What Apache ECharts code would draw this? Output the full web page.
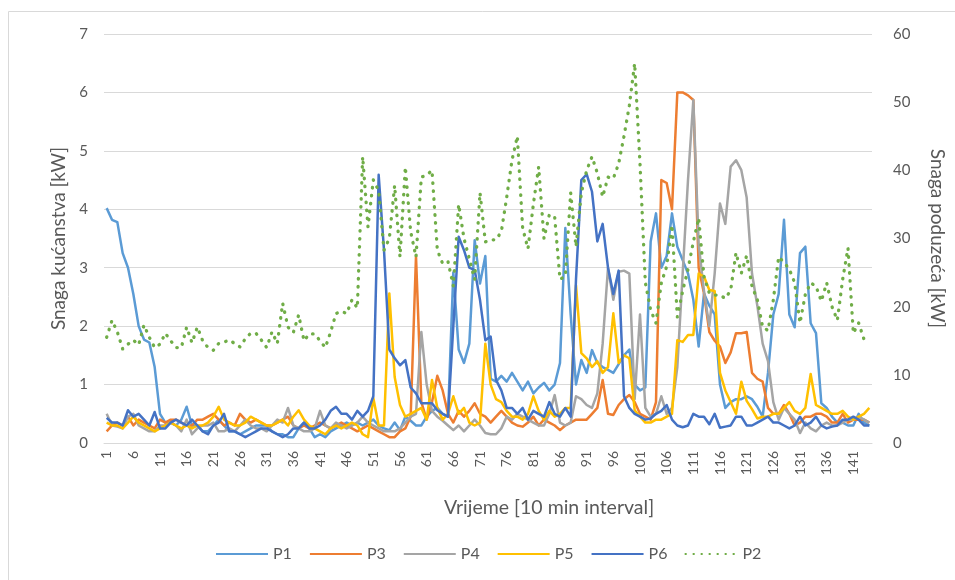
<!DOCTYPE html>
<html>
<head>
<meta charset="utf-8">
<script src="https://cdn.jsdelivr.net/npm/echarts@6/dist/echarts.min.js"></script>
<style>
html,body{margin:0;padding:0;background:#fff;}
#chart{width:955px;height:580px;}
</style>
</head>
<body>
<div id="chart"></div>
<script>
var categories = [1,2,3,4,5,6,7,8,9,10,11,12,13,14,15,16,17,18,19,20,21,22,23,24,25,26,27,28,29,30,31,32,33,34,35,36,37,38,39,40,41,42,43,44,45,46,47,48,49,50,51,52,53,54,55,56,57,58,59,60,61,62,63,64,65,66,67,68,69,70,71,72,73,74,75,76,77,78,79,80,81,82,83,84,85,86,87,88,89,90,91,92,93,94,95,96,97,98,99,100,101,102,103,104,105,106,107,108,109,110,111,112,113,114,115,116,117,118,119,120,121,122,123,124,125,126,127,128,129,130,131,132,133,134,135,136,137,138,139,140,141,142,143,144];

var P1 = [4.02,3.82,3.78,3.25,3.0,2.55,2.0,1.77,1.72,1.3,0.5,0.35,0.35,0.3,0.4,0.62,0.3,0.3,0.2,0.2,0.3,0.4,0.3,0.2,0.2,0.15,0.2,0.25,0.3,0.3,0.3,0.2,0.15,0.15,0.1,0.1,0.25,0.35,0.25,0.1,0.15,0.1,0.2,0.25,0.3,0.35,0.3,0.35,0.3,0.35,0.4,0.3,0.25,0.22,0.35,0.22,0.45,0.38,0.3,0.3,0.45,0.55,0.6,0.5,0.45,2.92,1.6,1.37,1.7,3.47,2.73,3.2,1.1,1.05,1.15,1.05,1.2,1.05,0.9,1.05,0.85,0.95,1.03,0.9,1.0,1.37,3.68,2.2,1.0,1.42,1.2,1.59,1.37,1.3,1.25,1.2,1.35,1.5,1.6,1.0,0.9,0.95,3.45,3.93,3.0,3.2,3.93,3.36,3.13,2.9,2.45,1.65,2.56,2.35,2.2,1.0,0.6,0.7,0.75,0.75,0.8,0.75,0.62,0.45,1.2,2.2,2.55,3.82,2.2,1.98,3.25,3.36,2.05,1.88,0.68,0.6,0.45,0.35,0.35,0.3,0.3,0.5,0.35,0.3];

var P3 = [0.2,0.3,0.35,0.3,0.45,0.3,0.4,0.35,0.3,0.25,0.4,0.35,0.4,0.4,0.35,0.3,0.3,0.4,0.4,0.45,0.5,0.4,0.3,0.35,0.3,0.5,0.4,0.35,0.4,0.35,0.3,0.3,0.35,0.4,0.45,0.3,0.25,0.3,0.25,0.3,0.35,0.3,0.25,0.3,0.35,0.3,0.25,0.2,0.25,0.3,0.25,0.2,0.15,0.1,0.1,0.2,0.25,0.45,3.2,0.7,0.4,0.7,1.15,0.9,0.5,0.35,0.55,0.45,0.55,0.68,0.5,0.45,0.35,0.45,0.55,0.45,0.35,0.3,0.28,0.35,0.45,0.3,0.4,0.35,0.3,0.22,0.3,0.35,0.4,0.4,0.4,0.5,0.6,1.08,0.5,0.48,0.65,0.75,0.82,0.7,0.5,0.45,0.4,0.7,4.5,4.45,4.0,6.0,6.0,5.95,5.87,3.0,2.56,1.9,1.75,1.65,1.37,1.55,1.88,1.88,1.9,1.2,1.1,1.05,0.6,0.5,0.5,0.65,0.5,0.3,0.35,0.45,0.45,0.5,0.5,0.45,0.35,0.35,0.5,0.35,0.4,0.4,0.4,0.35];

var P4 = [0.5,0.3,0.28,0.25,0.45,0.5,0.3,0.25,0.2,0.2,0.3,0.3,0.35,0.3,0.2,0.4,0.15,0.25,0.3,0.3,0.35,0.2,0.2,0.25,0.2,0.3,0.4,0.3,0.25,0.25,0.2,0.3,0.4,0.35,0.6,0.3,0.25,0.2,0.2,0.25,0.55,0.3,0.25,0.35,0.3,0.25,0.3,0.35,0.45,0.35,0.3,0.25,0.2,0.2,0.2,0.25,0.35,0.45,0.5,1.9,1.0,0.55,0.45,0.38,0.3,0.22,0.3,0.2,0.3,0.4,0.3,0.17,0.15,0.15,0.25,0.45,0.4,0.5,0.45,0.4,0.35,0.3,0.3,0.5,0.82,0.35,0.3,0.35,0.8,0.75,0.65,0.6,0.85,1.7,3.0,2.45,2.93,2.95,2.9,0.75,2.2,0.6,0.45,0.5,0.8,0.5,0.6,1.3,2.9,4.5,5.87,3.4,2.6,2.0,2.9,4.1,3.75,4.73,4.84,4.67,4.2,2.9,2.35,1.7,1.4,0.7,0.4,0.6,0.5,0.4,0.17,0.35,0.25,0.2,0.3,0.35,0.3,0.3,0.35,0.4,0.4,0.45,0.4,0.35];

var P5 = [0.35,0.3,0.3,0.25,0.35,0.45,0.35,0.3,0.25,0.2,0.25,0.3,0.35,0.3,0.25,0.3,0.25,0.3,0.3,0.35,0.45,0.62,0.4,0.35,0.3,0.3,0.35,0.45,0.4,0.35,0.3,0.3,0.35,0.4,0.3,0.45,0.56,0.4,0.3,0.25,0.2,0.15,0.25,0.3,0.25,0.3,0.35,0.3,0.15,0.1,0.77,0.3,0.3,2.56,1.13,0.65,0.45,0.5,0.55,0.6,0.4,1.08,0.6,0.4,0.5,0.8,0.5,0.6,0.35,0.3,0.35,1.7,1.0,0.75,0.7,0.55,0.45,0.45,0.4,0.5,0.8,0.55,0.4,0.55,0.45,0.5,0.6,0.6,2.7,1.54,1.45,1.3,1.4,1.2,1.3,2.22,1.37,1.5,1.45,0.56,0.45,0.35,0.35,0.4,0.4,0.45,0.5,1.76,1.73,1.85,1.85,2.9,2.85,2.62,2.6,1.2,0.9,0.7,0.5,1.05,0.72,0.58,0.42,0.45,0.45,0.5,0.5,0.6,0.7,0.55,0.5,0.6,1.18,0.65,0.6,0.55,0.5,0.5,0.55,0.45,0.4,0.45,0.5,0.6];

var P6 = [0.43,0.35,0.35,0.3,0.56,0.45,0.5,0.4,0.3,0.53,0.25,0.25,0.35,0.4,0.35,0.3,0.4,0.3,0.2,0.15,0.3,0.35,0.5,0.2,0.2,0.15,0.1,0.15,0.2,0.25,0.25,0.2,0.15,0.1,0.15,0.25,0.25,0.35,0.25,0.25,0.3,0.4,0.55,0.62,0.5,0.5,0.4,0.55,0.45,0.55,0.8,4.59,3.3,1.6,1.45,1.33,1.42,0.95,0.85,0.68,0.68,0.68,0.56,0.5,0.45,2.0,3.53,3.3,3.0,2.96,2.45,1.76,1.82,1.08,0.9,0.6,0.6,0.5,0.6,0.4,0.55,0.5,0.45,0.7,0.5,0.45,0.6,0.45,2.8,4.5,4.6,4.3,3.45,3.75,3.0,2.55,2.95,0.8,0.6,0.5,0.45,0.4,0.42,0.5,0.55,0.65,0.4,0.3,0.27,0.3,0.5,0.45,0.45,0.32,0.5,0.26,0.28,0.3,0.45,0.45,0.3,0.3,0.35,0.4,0.45,0.35,0.35,0.3,0.25,0.3,0.45,0.3,0.35,0.45,0.3,0.25,0.28,0.3,0.4,0.4,0.45,0.4,0.3,0.3];

var P2 = [15.5,18,16.3,13.8,14.5,15.1,14.4,17.3,15.5,14,14.5,16.1,15,14,14,17,14.7,17,15,14,13.6,14.6,14.8,15.1,14.6,14.1,15.3,16.1,16.1,15.1,14,16.3,14.6,20.5,17,16.2,18.8,15,16,16,15,14,16.3,19,19.3,19,21,19.8,42,31.7,38.6,37,28.3,30,37.8,27.3,40.5,31,27.3,39,39.3,40,28.3,26.3,26.6,23,35,30,27,24,36.7,29.5,29.8,29.8,31,36,41.5,45,31.5,28.5,35,40.5,30,33.5,33.2,24,24.5,36.7,28.8,36.7,40,42,39.6,36.1,39,38.8,41,45,49.5,55.7,41,23.5,19.5,17.6,23.5,25.9,32,18.5,22.3,25.5,29.5,33,24.4,22,21.7,21.7,21.2,22.4,27.9,24.9,27.5,23,21,17,16.5,21,27.3,26.5,25.5,23.5,17.6,21.8,23.5,23,20.8,23.5,20,18,24,28.6,16.1,17.6,15.2,14.7];

var leftTicks = [0,1,2,3,4,5,6,7];
var rightTicks = [0,10,20,30,40,50,60];

var FONT = 'Lato, "Open Sans", sans-serif';
var TXT = '#595959';
var GRID = '#D9D9D9';

var chart = echarts.init(document.getElementById('chart'), null, {renderer: 'canvas'});

function line(name, data, color, yIdx, extra) {
  var s = {
    name: name, type: 'line', data: data, yAxisIndex: yIdx,
    symbol: 'none', smooth: false, animation: false,
    lineStyle: {color: color, width: 2.5, join: 'round'},
    itemStyle: {color: color}
  };
  if (extra) { for (var k in extra) s.lineStyle[k] = extra[k]; }
  return s;
}

chart.setOption({
  animation: false,
  textStyle: {fontFamily: FONT},
  grid: {left: 104, right: 65, top: 34, bottom: 137, containLabel: false},
  title: {
    text: 'Vrijeme [10 min interval]',
    left: 544, top: 493, textAlign: 'center',
    textStyle: {fontFamily: FONT, fontSize: 19.5, fontWeight: 'normal', color: TXT}
  },
  legend: {
    left: 210, top: 541,
    itemWidth: 52, itemHeight: 14, itemGap: 17,
    itemStyle: {opacity: 0},
    textStyle: {fontFamily: FONT, fontSize: 16, color: TXT},
    data: ['P1','P3','P4','P5','P6','P2']
  },
  xAxis: {
    type: 'category', data: categories, boundaryGap: true,
    axisLine: {show: true, lineStyle: {color: GRID, width: 1}},
    axisTick: {show: false},
    axisLabel: {interval: 4, rotate: 90, color: TXT, fontSize: 14, margin: 8, fontFamily: FONT},
    splitLine: {show: false}
  },
  yAxis: [{
    type: 'value', min: leftTicks[0], max: leftTicks[leftTicks.length-1], interval: 1,
    name: 'Snaga kućanstva [kW]', nameLocation: 'middle', nameGap: 34,
    nameTextStyle: {fontFamily: FONT, fontSize: 19, color: TXT},
    axisLine: {show: false}, axisTick: {show: false},
    axisLabel: {color: TXT, fontSize: 15, margin: 16, fontFamily: FONT},
    splitLine: {show: true, lineStyle: {color: GRID, width: 1}}
  }, {
    type: 'value', min: rightTicks[0], max: rightTicks[rightTicks.length-1], interval: 10,
    name: 'Snaga poduzeća [kW]', nameLocation: 'middle', nameGap: 56, nameRotate: -90,
    nameTextStyle: {fontFamily: FONT, fontSize: 19, color: TXT},
    axisLine: {show: false}, axisTick: {show: false},
    axisLabel: {color: TXT, fontSize: 15, margin: 21, fontFamily: FONT},
    splitLine: {show: false}
  }],
  graphic: [{
    type: 'rect', silent: true, z: -1,
    shape: {x: 8.5, y: 11.5, width: 960, height: 600},
    style: {fill: 'none', stroke: GRID, lineWidth: 1}
  }],
  series: [
    line('P1', P1, '#5B9BD5', 0),
    line('P3', P3, '#ED7D31', 0),
    line('P4', P4, '#A5A5A5', 0),
    line('P5', P5, '#FFC000', 0),
    line('P6', P6, '#4472C4', 0),
    line('P2', P2, '#70AD47', 1, {type: [0.5, 7.5], width: 3.3, cap: 'round'})
  ]
});
</script>
</body>
</html>
